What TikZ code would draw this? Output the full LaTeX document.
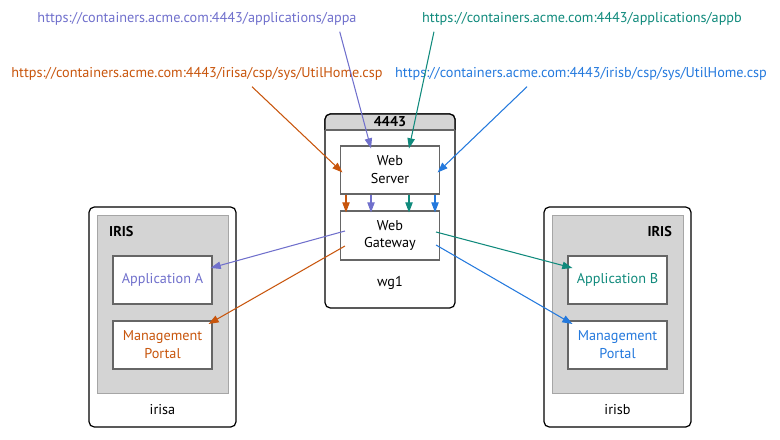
\documentclass[tikz,border=0pt]{standalone}
\usepackage{fontspec}
\setmainfont{PT Sans}
\usetikzlibrary{arrows.meta}
\definecolor{cpur}{HTML}{7070CC}
\definecolor{cteal}{HTML}{108A7C}
\definecolor{corg}{HTML}{C8550C}
\definecolor{cblue}{HTML}{2479DD}
\definecolor{cgray}{HTML}{D4D4D4}

\begin{document}
\begin{tikzpicture}[
    font=\fontsize{8.1}{10.2}\selectfont,
    outer/.style={draw=black, line width=0.7pt, rounded corners=3pt, minimum width=#1, minimum height=4.4cm},
    inner/.style={draw=gray!70, fill=cgray, line width=0.5pt, minimum width=2.62cm, minimum height=3.56cm},
    box/.style={draw=gray!80!black, fill=white, line width=0.6pt, minimum width=1.98cm, minimum height=0.96cm, align=center},
    arr/.style={-{Triangle[length=5.8pt,width=4.2pt]}, line width=0.6pt}
  ]
  \useasboundingbox (0,0) rectangle (15.6,-8.78);

  % urls
  \node[text=cpur] (urla) at (3.94,-0.38) {https://containers.acme.com:4443/applications/appa};
  \node[text=corg] (urlpa) at (3.94,-1.48) {https://containers.acme.com:4443/irisa/csp/sys/UtilHome.csp};
  \node[text=cteal] (urlb) at (11.64,-0.38) {https://containers.acme.com:4443/applications/appb};
  \node[text=cblue] (urlpb) at (11.62,-1.48) {https://containers.acme.com:4443/irisb/csp/sys/UtilHome.csp};

  % wg1
  \node[draw=black, line width=0.7pt, rounded corners=3pt, minimum width=2.6cm, minimum height=3.88cm] (wg) at (7.8,-4.22) {};
  \fill[cgray, rounded corners=3pt] (6.5,-2.6) -- (6.5,-2.28) -- (9.1,-2.28) [sharp corners] -- (9.1,-2.6) -- cycle;
  \draw[line width=0.7pt, rounded corners=3pt] (6.5,-2.6) -- (6.5,-2.28) -- (9.1,-2.28) [sharp corners] -- (9.1,-2.6);
  \draw[gray!80!black, line width=0.6pt] (6.5,-2.6) -- (9.1,-2.6);
  \node[font=\fontsize{8.1}{10.2}\selectfont\bfseries] (port) at (7.8,-2.44) {4443};
  \node[box, minimum height=0.96cm] (ws) at (7.8,-3.4) {Web\\Server};
  \node[box, minimum height=0.98cm] (gw) at (7.8,-4.71) {Web\\Gateway};
  \node (wgl) at (7.8,-5.66) {wg1};

  % irisa
  \node[outer=2.94cm] (ia) at (3.25,-6.34) {};
  \node[inner] (ia in) at (3.25,-6.08) {};
  \node[anchor=west, font=\fontsize{8.1}{10.2}\selectfont\bfseries] (ia iris) at (2.06,-4.64) {IRIS};
  \node[box, text=cpur] (appa) at (3.25,-5.6) {Application A};
  \node[box, text=corg] (mpa) at (3.25,-6.9) {Management\\Portal};
  \node (ial) at (3.25,-8.2) {irisa};

  % irisb
  \node[outer=2.94cm] (ib) at (12.35,-6.34) {};
  \node[inner] (ib in) at (12.35,-6.08) {};
  \node[anchor=east, font=\fontsize{8.1}{10.2}\selectfont\bfseries] (ib iris) at (13.56,-4.64) {IRIS};
  \node[box, text=cteal] (appb) at (12.35,-5.6) {Application B};
  \node[box, text=cblue] (mpb) at (12.35,-6.9) {Management\\Portal};
  \node (ibl) at (12.35,-8.2) {irisb};

  % into the web server
  \draw[arr, cpur] ([xshift=-0.46cm]urla.south east) -- ([xshift=-0.38cm,yshift=-0.06cm]ws.north);
  \draw[arr, cteal] ([xshift=0.36cm]urlb.south west) -- ([xshift=0.38cm,yshift=-0.06cm]ws.north);
  \draw[arr, corg] ([xshift=1.1cm]urlpa.south) -- ([xshift=0.05cm,yshift=-0.05cm]ws.west);
  \draw[arr, cblue] ([xshift=-1.08cm]urlpb.south) -- ([xshift=-0.05cm,yshift=-0.05cm]ws.east);

  % server to gateway
  \draw[arr, corg] ([xshift=-0.88cm]ws.south) -- ([xshift=-0.88cm,yshift=-0.04cm]gw.north);
  \draw[arr, cpur] ([xshift=-0.38cm]ws.south) -- ([xshift=-0.38cm,yshift=-0.04cm]gw.north);
  \draw[arr, cteal] ([xshift=0.38cm]ws.south) -- ([xshift=0.38cm,yshift=-0.04cm]gw.north);
  \draw[arr, cblue] ([xshift=0.9cm]ws.south) -- ([xshift=0.9cm,yshift=-0.04cm]gw.north);

  % gateway to the instances
  \draw[arr, cpur] ([xshift=0.1cm,yshift=0.09cm]gw.west) -- ([xshift=-0.04cm,yshift=0.24cm]appa.east);
  \draw[arr, corg] ([xshift=0.1cm,yshift=-0.21cm]gw.west) -- ([xshift=-0.08cm,yshift=0.42cm]mpa.east);
  \draw[arr, cteal] ([xshift=-0.08cm,yshift=0.07cm]gw.east) -- ([xshift=0.1cm,yshift=0.24cm]appb.west);
  \draw[arr, cblue] ([xshift=-0.08cm,yshift=-0.19cm]gw.east) -- ([xshift=0.1cm,yshift=0.42cm]mpb.west);
\end{tikzpicture}
\end{document}
